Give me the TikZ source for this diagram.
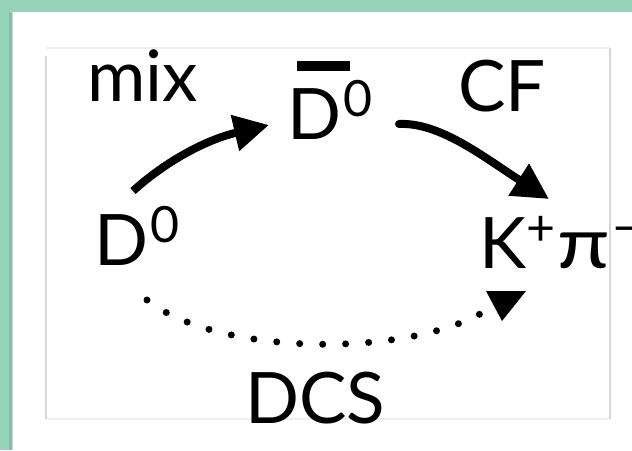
\documentclass[tikz,border=0pt]{standalone}
\usepackage{fontspec}
\setmainfont{Lato}
\usetikzlibrary{arrows.meta}
\definecolor{slidegreen}{HTML}{96D3B9}
\definecolor{slideshadow}{HTML}{7FC2A5}
\definecolor{framegray}{HTML}{D6D6D6}
\definecolor{framefaint}{HTML}{EFEFEF}
% raised, smaller superscript in the label font
\newcommand\supnum[1]{\raisebox{23pt}{\fontsize{50}{52}\selectfont #1}}
\begin{document}
\begin{tikzpicture}[x=1pt,y=-1pt,
  lbl/.style={inner sep=0pt, anchor=base west, font=\fontsize{71}{82}\selectfont},
  flow/.style={line width=8pt},
  dotflow/.style={line width=7pt, line cap=round, dash pattern=on 0pt off 23pt},
  ]
\useasboundingbox (0,0) rectangle (632,450);
% slide background and white panel
\fill[slidegreen] (0,0) rectangle (632,450);
\fill[slideshadow] (9,13) rectangle (12,450);
\fill[white] (12,12) rectangle (632,450);
\draw[framegray, line width=0.8pt] (12.4,12) -- (12.4,450);
% light frame around the diagram
\draw[framefaint, line width=1.5pt] (46,48) -- (610,48);
\draw[framefaint, line width=1.5pt] (46,419) -- (610,419);
\draw[framegray, line width=1.5pt] (46,56) -- (46,419);
\draw[framegray, line width=1.5pt] (610,48) -- (610,419);

% labels
\node[lbl] (mix) at (87,101) {mix};
\node[lbl] (dbar) at (287,139) {\rlap{\kern10pt\rule[68pt]{53pt}{10pt}}D\kern2pt\supnum{0}};
\node[lbl] (cf) at (458,111) {CF};
\node[lbl] (d0) at (94,265) {D\kern2pt\supnum{0}};
\node[lbl] (kpi) at (479,268) {K\supnum{+}\kern2pt\scalebox{1.2}[1]{π}\kern3pt\supnum{−}};
\node[lbl] (dcs) at (245,423) {DCS};

% mixing: D0 -> D0bar
\coordinate (mixA) at (133,191);
\coordinate (mixB) at (269,125);
\draw[flow, -{Triangle[length=35pt,width=35pt]}] (mixA) .. controls (165,162) and (205,140) .. (mixB);

% Cabibbo-favoured: D0bar -> K+pi-
\coordinate (cfA) at (399,124);
\coordinate (cfB) at (549,199);
\draw[flow, line cap=round, -{Triangle[length=36pt,width=36pt]}] (cfA) .. controls (440,122) and (485,158) .. (cfB);

% doubly Cabibbo-suppressed: D0 -> K+pi-
\coordinate (dcsA) at (147,300);
\coordinate (dcsB) at (493,306);
\draw[dotflow] (dcsA) .. controls (220,358) and (420,358) .. (dcsB);
\coordinate (dcsL) at (486,291);
\coordinate (dcsR) at (526,291);
\coordinate (dcsTip) at (502,321);
\fill (dcsL) -- (dcsTip) -- (dcsR) -- cycle;
\end{tikzpicture}
\end{document}
